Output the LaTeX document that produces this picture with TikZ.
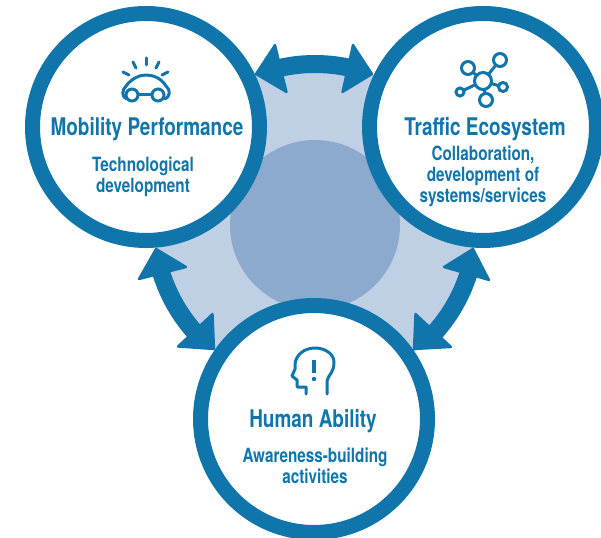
\documentclass[tikz,border=0pt]{standalone}
\usepackage{fontspec}
\setmainfont[FakeStretch=0.78]{TeX Gyre Heros}
\definecolor{brandblue}{HTML}{0F75AB}
\definecolor{lightdisk}{HTML}{BFCFE4}
\definecolor{darkdisk}{HTML}{8CA9CE}
\tikzset{
  ringnode/.style={circle,draw=brandblue,fill=white,line width=15pt,minimum size=227pt,inner sep=0pt,outer sep=0pt},
  titletext/.style={text=brandblue,font=\fontsize{24.3}{26}\bfseries\selectfont,align=center,inner sep=0pt},
  subtext/.style={text=brandblue,font=\fontsize{19.6}{21}\bfseries\selectfont,align=center,inner sep=0pt},
  shaft/.style={draw=brandblue,line width=18pt},
  headtip/.style={fill=brandblue,draw=brandblue,line width=2.4pt,line join=round},
  icon/.style={draw=brandblue,line width=3pt,line cap=round,line join=round},
  netnode/.style={circle,draw=brandblue,fill=white,line width=3pt,inner sep=0pt,outer sep=0pt},
}
\begin{document}
\begin{tikzpicture}[x=1pt,y=-1pt]
\useasboundingbox (0,0) rectangle (601,537);
\clip (0,0) rectangle (601,537);
\coordinate (hub) at (315,225);
% discs
\node[circle,fill=lightdisk,minimum size=322pt,inner sep=0pt,outer sep=0pt] (bigdisk) at (hub) {};
\node[circle,fill=darkdisk,minimum size=170pt,inner sep=0pt,outer sep=0pt] (coredisk) at (hub) {};
% double arrows
\draw[shaft] ([shift={(256:161)}]hub) arc[start angle=256,end angle=284,radius=161];
\fill[headtip] (256,74) -- (275,45) -- (286.5,92) -- cycle;
\fill[headtip] (372,74) -- (353,45) -- (342.5,92) -- cycle;
\draw[shaft] ([shift={(164:161)}]hub) arc[start angle=164,end angle=137,radius=161];
\fill[headtip] (156,249) -- (139,279) -- (186,267) -- cycle;
\fill[headtip] (214,349) -- (212.5,314) -- (178,346.5) -- cycle;
\draw[shaft] ([shift={(16:161)}]hub) arc[start angle=16,end angle=43,radius=161];
\fill[headtip] (473,249) -- (489,280) -- (444,267) -- cycle;
\fill[headtip] (414,349) -- (415.5,314) -- (451,347) -- cycle;
% rings
\node[ringnode] (mobility) at (146,127) {};
\node[ringnode] (traffic) at (483,127) {};
\node[ringnode] (human) at (314,419) {};
% texts
\node[titletext] (t1) at (147,129) {Mobility Performance};
\node[subtext] (s1) at (143,177) {Technological\\development};
\node[titletext] (t2) at (485,129) {Traffic Ecosystem};
\node[subtext] (s2) at (483,176) {Collaboration,\\development of\\systems/services};
\node[titletext] (t3) at (313,421) {Human Ability};
\node[subtext] (s3) at (315,465.5) {Awareness-building\\activities};
% car icon
\draw[icon] (123,72) -- (129,75);
\draw[icon] (133,62) -- (136,68);
\draw[icon] (146,58) -- (146,65);
\draw[icon] (159,62) -- (156,68);
\draw[icon] (168,72) -- (162,75);
\draw[icon] (127,99) .. controls (121,97) and (122,90) .. (126,86) .. controls (132,78) and (140,75) .. (146,75) .. controls (153,75) and (161,78) .. (166,86) .. controls (171,90) and (170,97) .. (165,99);
\draw[icon] (137,95) -- (153,95);
\node[netnode,minimum size=12pt] (wheelL) at (132,95) {};
\node[netnode,minimum size=12pt] (wheelR) at (158,95) {};
% network icon
\node[netnode,minimum size=17pt] (nc) at (483,81) {};
\node[netnode,minimum size=13pt] (na) at (468,68) {};
\node[netnode,minimum size=13pt] (nb) at (500,60) {};
\node[netnode,minimum size=8pt] (nd) at (460,92) {};
\node[netnode,minimum size=9pt] (ne) at (503,87) {};
\node[netnode,minimum size=13pt] (nf) at (486,100) {};
\foreach \n in {na,nb,nd,ne,nf} \draw[icon,line cap=butt] (nc) -- (\n);
% head icon
\draw[icon] (327,394) -- (327,381) .. controls (328,375) and (334,373) .. (334,362) .. controls (334,354) and (325,348) .. (315,348) .. controls (304,348) and (296,355) .. (295,364) -- (295,369) -- (292,376) -- (297,380) -- (297,387) -- (306,387) -- (306,394);
\draw[icon,line cap=butt,line width=3.6pt] (314,360) -- (314,373);
\fill[brandblue] (314,379) circle (2.2pt);
\end{tikzpicture}
\end{document}
